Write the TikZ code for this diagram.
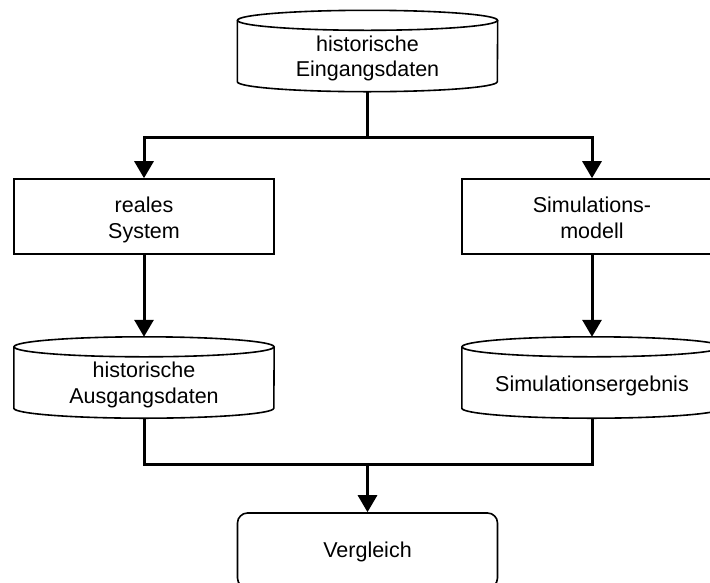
\documentclass[tikz,border=0pt]{standalone}
\usepackage{fontspec}
\setmainfont{Liberation Sans}
\usetikzlibrary{arrows.meta,calc}
\newcommand\drawcylinder[1]{%
  \draw[cylline] ([yshift=10pt]#1.north) ellipse[x radius=130pt, y radius=10pt];
  \draw[cylline] ([yshift=10pt]#1.north west) -- (#1.south west)
    arc[start angle=180, end angle=360, x radius=130pt, y radius=10pt]
    -- ([yshift=10pt]#1.north east);
}
\newcommand\lbl[2][3.5pt]{\raisebox{-#1}[\height][\depth]{\begin{tabular}{@{}c@{}}#2\end{tabular}}}
\begin{document}
\begin{tikzpicture}[x=1pt,y=1pt,
  txt/.style={font=\fontsize{21.5}{25.5}\selectfont, inner sep=0pt},
  box/.style={txt, draw, line width=1.6pt, minimum width=260pt, minimum height=75pt},
  cylbody/.style={txt, minimum width=260pt, minimum height=51pt},
  cylline/.style={line width=1.6pt},
  conn/.style={line width=3pt},
  arr/.style={conn, -{Triangle[width=19pt,length=17pt]}}
]
\useasboundingbox (0,0) rectangle (710,-582);
\node[cylbody] (in) at (367.5,-56) {\lbl[3pt]{historische\\Eingangsdaten}};
\node[box] (sys) at (144,-216.5) {\lbl[4pt]{reales\\System}};
\node[box] (sim) at (592,-216.5) {\lbl[4pt]{Simulations-\\modell}};
\node[cylbody] (hout) at (144,-382.5) {\lbl[3pt]{historische\\Ausgangsdaten}};
\node[cylbody] (res) at (592,-382.5) {\lbl[3.5pt]{Simulationsergebnis}};
\node[box, rounded corners=10pt] (cmp) at (367.5,-550.5) {\lbl[2pt]{Vergleich}};
\drawcylinder{in}
\drawcylinder{hout}
\drawcylinder{res}
\coordinate (j1) at (367.5,-137);
\coordinate (j2) at (367.5,-464);
\draw[conn] ([yshift=-10pt]in.south) -- (j1);
\draw[arr] (j1) -| (sys.north);
\draw[arr] (j1) -| (sim.north);
\draw[arr] (sys.south) -- ([yshift=20pt]hout.north);
\draw[arr] (sim.south) -- ([yshift=20pt]res.north);
\draw[conn] ([yshift=-10pt]hout.south) |- (j2);
\draw[conn] ([yshift=-10pt]res.south) |- (j2);
\draw[arr] (j2) -- (cmp.north);
\end{tikzpicture}
\end{document}
